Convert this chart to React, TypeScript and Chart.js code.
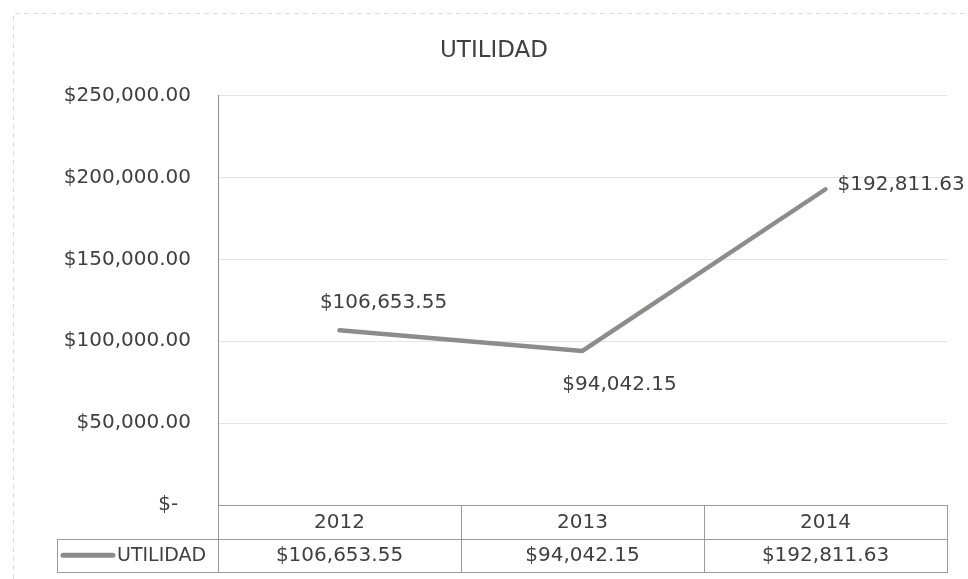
import React, { useEffect, useRef } from "react";
import { Chart, registerables } from "chart.js";

Chart.register(...registerables);

const categories = ["2012", "2013", "2014"];
const seriesName = "UTILIDAD";
const values = [106653.55, 94042.15, 192811.63];
const yTickMin = 0;
const yTickMax = 250000;
const yTickStep = 50000;

const FONT = "'DejaVu Sans', sans-serif";
const TEXT = "#404040";
const LINE = "#8b8d8a";
const BORDER = "#9a9a9a";
const FS = 20;

const money = (v: number) =>
  "$" + v.toLocaleString("en-US", { minimumFractionDigits: 2, maximumFractionDigits: 2 });

const tablePlugin = {
  id: "tablePlugin",
  beforeDraw(chart: any) {
    const ctx = chart.ctx;
    ctx.save();
    ctx.strokeStyle = "#dcdcdc";
    ctx.lineWidth = 1;
    ctx.setLineDash([5, 4]);
    ctx.beginPath();
    ctx.moveTo(13.5, 579);
    ctx.lineTo(13.5, 13.5);
    ctx.lineTo(968, 13.5);
    ctx.stroke();
    ctx.restore();
  },
  afterDraw(chart: any) {
    const ctx = chart.ctx;
    const xs = chart.scales.x;
    const ys = chart.scales.y;
    const area = chart.chartArea;
    const half = (xs.getPixelForValue(1) - xs.getPixelForValue(0)) / 2;
    const rowH = 33.5;
    const top = area.bottom;
    const mid = top + rowH;
    const bot = mid + rowH;
    const legendLeft = 57;
    const right = xs.getPixelForValue(categories.length - 1) + half + 1;

    ctx.save();
    // data labels
    ctx.font = `${FS}px ${FONT}`;
    ctx.fillStyle = TEXT;
    ctx.textBaseline = "middle";
    values.forEach((v, i) => {
      const px = xs.getPixelForValue(i);
      const py = ys.getPixelForValue(v);
      const txt = money(v);
      if (i === 0) {
        ctx.textAlign = "center";
        ctx.fillText(txt, px + 44, py - 28);
      } else if (i === 1) {
        ctx.textAlign = "center";
        ctx.fillText(txt, px + 37, py + 34);
      } else {
        ctx.textAlign = "left";
        ctx.fillText(txt, px + 12, py - 4);
      }
    });

    // table borders
    ctx.strokeStyle = BORDER;
    ctx.lineWidth = 1;
    ctx.beginPath();
    ctx.moveTo(area.left, Math.round(top) + 0.5);
    ctx.lineTo(right, Math.round(top) + 0.5);
    ctx.moveTo(legendLeft, Math.round(mid) + 0.5);
    ctx.lineTo(right, Math.round(mid) + 0.5);
    ctx.moveTo(legendLeft, Math.round(bot) + 0.5);
    ctx.lineTo(right, Math.round(bot) + 0.5);
    ctx.moveTo(legendLeft + 0.5, Math.round(mid));
    ctx.lineTo(legendLeft + 0.5, Math.round(bot));
    ctx.moveTo(Math.round(area.left) + 0.5, Math.round(top));
    ctx.lineTo(Math.round(area.left) + 0.5, Math.round(bot));
    for (let i = 0; i < categories.length; i++) {
      const xb = Math.round(xs.getPixelForValue(i) + half) + 0.5;
      ctx.moveTo(xb, Math.round(top));
      ctx.lineTo(xb, Math.round(bot));
    }
    ctx.stroke();

    // categories and values
    ctx.textAlign = "center";
    categories.forEach((c, i) => {
      const px = xs.getPixelForValue(i);
      ctx.fillText(c, px, (top + mid) / 2 + 1);
      ctx.fillText(money(values[i]), px, (mid + bot) / 2 + 1);
    });

    // legend key
    ctx.strokeStyle = LINE;
    ctx.lineWidth = 5;
    ctx.lineCap = "round";
    ctx.beginPath();
    ctx.moveTo(legendLeft + 6, (mid + bot) / 2);
    ctx.lineTo(legendLeft + 56, (mid + bot) / 2);
    ctx.stroke();
    ctx.textAlign = "left";
    ctx.font = `19px ${FONT}`;
    ctx.fillText(seriesName, legendLeft + 60, (mid + bot) / 2 + 1);
    ctx.restore();
  },
};

export default function App() {
  const ref = useRef<HTMLCanvasElement | null>(null);
  useEffect(() => {
    if (!ref.current) return;
    const chart = new Chart(ref.current, {
      type: "line",
      data: {
        labels: categories,
        datasets: [
          {
            label: seriesName,
            data: values,
            borderColor: LINE,
            borderWidth: 4.5,
            borderCapStyle: "round",
            borderJoinStyle: "round",
            pointRadius: 0,
            tension: 0,
            fill: false,
          },
        ],
      },
      options: {
        responsive: false,
        animation: false,
        layout: { padding: { left: 41, right: 21, top: 0, bottom: 74 } },
        plugins: {
          legend: { display: false },
          tooltip: { enabled: false },
          title: {
            display: true,
            text: "UTILIDAD",
            color: TEXT,
            font: { family: FONT, size: 23, weight: "normal" },
            padding: { top: 37, bottom: 31 },
          },
        },
        scales: {
          x: {
            type: "category",
            display: false,
            offset: true,
          },
          y: {
            min: yTickMin,
            max: yTickMax,
            ticks: {
              stepSize: yTickStep,
              color: TEXT,
              font: { family: FONT, size: FS },
              padding: 27,
              callback: (v: any) => (Number(v) === 0 ? "$-  " : money(Number(v))),
            },
            grid: { color: "#e4e4e4", lineWidth: 1, drawTicks: false },
            border: { display: true, color: "#8c8c8c", width: 1 },
            afterFit: (scale: any) => {
              scale.width = 177;
            },
          },
        },
      },
      plugins: [tablePlugin],
    } as any);
    return () => chart.destroy();
  }, []);
  return (
    <div style={{ position: "fixed", left: 0, top: 0, width: 968, height: 579, background: "#fff" }}>
      <canvas ref={ref} width={968} height={579} style={{ display: "block" }} />
    </div>
  );
}
